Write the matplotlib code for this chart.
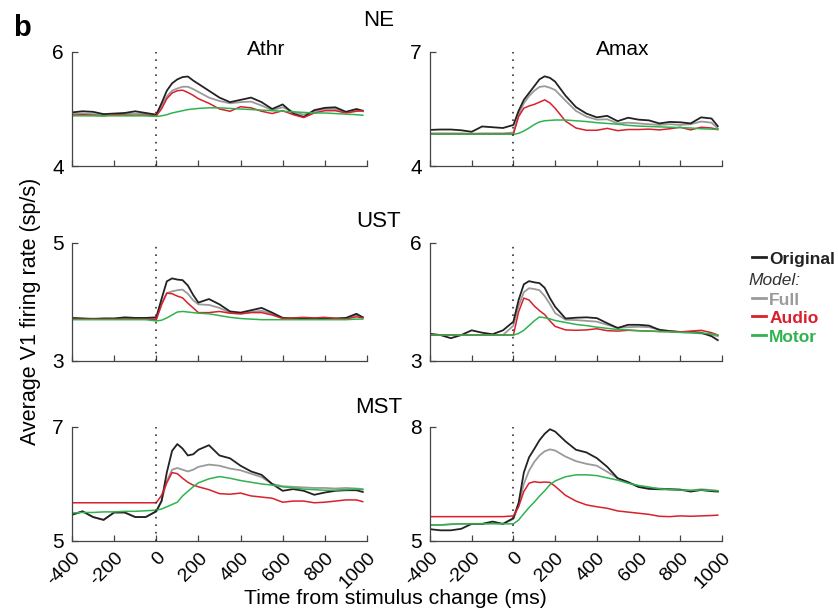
import matplotlib
matplotlib.use('Agg')
import matplotlib.pyplot as plt

plt.rcParams['font.family'] = ['Liberation Sans', 'DejaVu Sans']
plt.rcParams['axes.unicode_minus'] = False

# time axis (ms) shared by all panels
t = [-400, -350, -300, -250, -200, -150, -100, -50, 0, 25, 50, 75, 100, 125, 150, 175, 200,
     250, 300, 350, 400, 450, 500, 550, 600, 650, 700, 750, 800, 850, 900, 950, 980]

# NE / Athr
ne_athr_orig = [4.94, 4.96, 4.95, 4.91, 4.92, 4.93, 4.96, 4.93, 4.90, 5.10, 5.32, 5.45, 5.52, 5.56, 5.57, 5.50, 5.44,
                5.32, 5.20, 5.12, 5.16, 5.20, 5.12, 5.00, 5.08, 4.92, 4.86, 4.98, 5.02, 5.03, 4.95, 5.00, 4.97]
ne_athr_full = [4.91, 4.92, 4.91, 4.90, 4.90, 4.91, 4.92, 4.91, 4.89, 5.05, 5.22, 5.32, 5.36, 5.39, 5.39, 5.35, 5.30,
                5.20, 5.14, 5.10, 5.12, 5.13, 5.06, 4.98, 5.03, 4.95, 4.90, 4.96, 5.00, 5.00, 4.94, 4.98, 4.96]
ne_athr_audio = [4.89, 4.90, 4.89, 4.88, 4.90, 4.89, 4.89, 4.89, 4.88, 5.00, 5.18, 5.28, 5.32, 5.33, 5.29, 5.24, 5.18,
                 5.10, 5.00, 4.96, 5.04, 5.02, 4.96, 4.92, 4.97, 4.90, 4.85, 4.93, 4.97, 4.97, 4.93, 4.96, 4.97]
ne_athr_motor = [4.88, 4.88, 4.88, 4.88, 4.88, 4.88, 4.88, 4.88, 4.87, 4.88, 4.90, 4.93, 4.95, 4.97, 4.99, 5.00, 5.01,
                 5.02, 5.02, 5.01, 5.00, 4.99, 4.98, 4.97, 4.96, 4.95, 4.94, 4.93, 4.93, 4.92, 4.91, 4.90, 4.89]

# NE / Amax
ne_amax_orig = [4.95, 4.96, 4.96, 4.94, 4.90, 5.04, 5.02, 5.00, 5.08, 5.45, 5.74, 5.92, 6.10, 6.28, 6.36, 6.32, 6.22,
                5.85, 5.55, 5.38, 5.28, 5.32, 5.18, 5.27, 5.22, 5.20, 5.12, 5.16, 5.15, 5.12, 5.28, 5.25, 5.05]
ne_amax_full = [4.86, 4.86, 4.86, 4.86, 4.85, 4.86, 4.86, 4.86, 4.88, 5.35, 5.65, 5.84, 5.98, 6.08, 6.10, 6.06, 6.00,
                5.72, 5.45, 5.30, 5.22, 5.23, 5.12, 5.14, 5.12, 5.10, 5.08, 5.10, 5.08, 5.10, 5.17, 5.14, 4.99]
ne_amax_audio = [4.84, 4.84, 4.84, 4.84, 4.84, 4.84, 4.84, 4.84, 4.84, 5.30, 5.52, 5.58, 5.62, 5.68, 5.74, 5.66, 5.52,
                 5.18, 5.00, 4.94, 4.94, 4.99, 4.93, 4.96, 4.96, 4.97, 4.95, 4.98, 5.02, 4.95, 5.02, 5.00, 4.96]
ne_amax_motor = [4.84, 4.84, 4.84, 4.84, 4.84, 4.84, 4.84, 4.84, 4.83, 4.86, 4.92, 5.00, 5.09, 5.16, 5.19, 5.20, 5.21,
                 5.21, 5.19, 5.17, 5.14, 5.12, 5.10, 5.07, 5.05, 5.04, 5.03, 5.02, 5.01, 5.00, 4.98, 4.97, 4.96]

# UST / Athr
ust_athr_orig = [3.73, 3.72, 3.71, 3.72, 3.72, 3.74, 3.73, 3.73, 3.74, 4.05, 4.35, 4.40, 4.38, 4.37, 4.28, 4.12, 3.99,
                 4.05, 3.96, 3.84, 3.82, 3.86, 3.90, 3.82, 3.73, 3.72, 3.73, 3.72, 3.73, 3.72, 3.73, 3.80, 3.74]
ust_athr_full = [3.72, 3.72, 3.72, 3.72, 3.72, 3.72, 3.72, 3.72, 3.72, 3.98, 4.15, 4.18, 4.20, 4.21, 4.14, 4.03, 3.96,
                 3.95, 3.90, 3.82, 3.80, 3.83, 3.85, 3.80, 3.73, 3.72, 3.72, 3.72, 3.72, 3.72, 3.72, 3.78, 3.74]
ust_athr_audio = [3.71, 3.71, 3.71, 3.71, 3.71, 3.71, 3.71, 3.71, 3.70, 3.95, 4.15, 4.14, 4.10, 4.07, 3.98, 3.90, 3.82,
                  3.82, 3.84, 3.81, 3.80, 3.82, 3.82, 3.78, 3.72, 3.73, 3.74, 3.73, 3.74, 3.72, 3.71, 3.75, 3.73]
ust_athr_motor = [3.70, 3.70, 3.70, 3.70, 3.70, 3.70, 3.70, 3.70, 3.68, 3.69, 3.73, 3.78, 3.83, 3.84, 3.83, 3.82, 3.81,
                  3.80, 3.77, 3.74, 3.72, 3.71, 3.70, 3.70, 3.70, 3.70, 3.70, 3.70, 3.70, 3.70, 3.70, 3.71, 3.71]

# UST / Amax
ust_amax_orig = [3.69, 3.66, 3.58, 3.66, 3.78, 3.72, 3.68, 3.78, 4.00, 4.55, 4.95, 5.03, 5.00, 4.98, 4.86, 4.60, 4.38,
                 4.08, 4.10, 4.11, 4.09, 3.96, 3.84, 3.92, 3.92, 3.90, 3.79, 3.76, 3.74, 3.74, 3.72, 3.63, 3.53]
ust_amax_full = [3.66, 3.66, 3.66, 3.66, 3.66, 3.66, 3.66, 3.66, 3.90, 4.40, 4.75, 4.85, 4.83, 4.80, 4.65, 4.45, 4.22,
                 4.05, 4.04, 4.02, 4.00, 3.92, 3.84, 3.86, 3.87, 3.86, 3.80, 3.76, 3.73, 3.72, 3.70, 3.67, 3.63]
ust_amax_audio = [3.66, 3.66, 3.66, 3.66, 3.66, 3.66, 3.66, 3.66, 3.66, 4.25, 4.60, 4.55, 4.40, 4.28, 4.18, 4.02, 3.88,
                  3.79, 3.78, 3.79, 3.82, 3.77, 3.76, 3.78, 3.77, 3.76, 3.75, 3.75, 3.74, 3.76, 3.78, 3.72, 3.66]
ust_amax_motor = [3.66, 3.66, 3.66, 3.66, 3.66, 3.66, 3.66, 3.66, 3.66, 3.70, 3.78, 3.90, 4.02, 4.12, 4.10, 4.07, 4.03,
                  3.98, 3.93, 3.90, 3.86, 3.83, 3.80, 3.79, 3.77, 3.76, 3.75, 3.74, 3.73, 3.72, 3.71, 3.69, 3.66]

# MST / Athr
mst_athr_orig = [5.46, 5.52, 5.42, 5.37, 5.50, 5.50, 5.42, 5.42, 5.52, 5.70, 6.20, 6.58, 6.70, 6.62, 6.50, 6.52, 6.60,
                 6.68, 6.50, 6.45, 6.32, 6.22, 6.16, 6.00, 5.88, 5.91, 5.88, 5.81, 5.85, 5.88, 5.89, 5.89, 5.86]
mst_athr_full = [5.46, 5.52, 5.42, 5.37, 5.50, 5.50, 5.42, 5.42, 5.52, 5.70, 6.05, 6.25, 6.28, 6.25, 6.22, 6.25, 6.30,
                 6.34, 6.32, 6.27, 6.24, 6.18, 6.12, 6.00, 5.96, 5.95, 5.94, 5.93, 5.93, 5.92, 5.93, 5.92, 5.91]
mst_athr_audio = [5.67, 5.67, 5.67, 5.67, 5.67, 5.67, 5.67, 5.67, 5.67, 5.80, 6.02, 6.20, 6.18, 6.10, 6.03, 5.98, 5.95,
                  5.90, 5.83, 5.82, 5.84, 5.79, 5.77, 5.75, 5.68, 5.70, 5.70, 5.67, 5.68, 5.70, 5.72, 5.72, 5.69]
mst_athr_motor = [5.49, 5.50, 5.50, 5.51, 5.51, 5.52, 5.52, 5.53, 5.54, 5.56, 5.60, 5.64, 5.68, 5.79, 5.87, 5.95, 6.02,
                  6.09, 6.13, 6.10, 6.06, 6.03, 6.00, 5.98, 5.95, 5.93, 5.91, 5.90, 5.89, 5.89, 5.90, 5.91, 5.90]

# MST / Amax
mst_amax_orig = [5.31, 5.28, 5.28, 5.32, 5.45, 5.45, 5.51, 5.45, 5.60, 6.00, 6.80, 7.20, 7.42, 7.65, 7.82, 7.94, 7.88,
                 7.62, 7.40, 7.33, 7.18, 6.95, 6.65, 6.55, 6.42, 6.37, 6.36, 6.36, 6.35, 6.30, 6.34, 6.31, 6.30]
mst_amax_full = [5.42, 5.42, 5.44, 5.45, 5.45, 5.45, 5.46, 5.45, 5.58, 5.95, 6.50, 6.85, 7.08, 7.25, 7.36, 7.41, 7.38,
                 7.22, 7.10, 7.03, 6.98, 6.82, 6.65, 6.53, 6.45, 6.40, 6.38, 6.36, 6.35, 6.33, 6.36, 6.34, 6.32]
mst_amax_audio = [5.64, 5.64, 5.64, 5.64, 5.64, 5.64, 5.64, 5.64, 5.66, 5.90, 6.30, 6.52, 6.56, 6.54, 6.55, 6.54, 6.44,
                  6.20, 6.05, 5.95, 5.90, 5.86, 5.79, 5.76, 5.73, 5.70, 5.65, 5.64, 5.66, 5.65, 5.66, 5.67, 5.68]
mst_amax_motor = [5.42, 5.42, 5.44, 5.45, 5.45, 5.45, 5.46, 5.45, 5.45, 5.55, 5.72, 5.88, 6.02, 6.18, 6.32, 6.48, 6.58,
                  6.69, 6.74, 6.74, 6.72, 6.66, 6.60, 6.52, 6.46, 6.42, 6.37, 6.35, 6.34, 6.33, 6.34, 6.33, 6.32]

xticks = [-400, -200, 0, 200, 400, 600, 800, 1000]
xticklabels = ['-400', '-200', '0', '200', '400', '600', '800', '1000']

c_orig = '#222222'
c_full = '#9a9a9a'
c_audio = '#d9202c'
c_motor = '#2fb34f'

panels = [
    # (left, bottom, width, height), ylim, data
    ((0.0859, 0.7292, 0.352, 0.186), (4, 6), (ne_athr_orig, ne_athr_full, ne_athr_audio, ne_athr_motor)),
    ((0.5131, 0.7292, 0.3484, 0.186), (4, 7), (ne_amax_orig, ne_amax_full, ne_amax_audio, ne_amax_motor)),
    ((0.0859, 0.4111, 0.352, 0.1925), (3, 5), (ust_athr_orig, ust_athr_full, ust_athr_audio, ust_athr_motor)),
    ((0.5131, 0.4111, 0.3484, 0.1925), (3, 6), (ust_amax_orig, ust_amax_full, ust_amax_audio, ust_amax_motor)),
    ((0.0859, 0.1175, 0.352, 0.186), (5, 7), (mst_athr_orig, mst_athr_full, mst_athr_audio, mst_athr_motor)),
    ((0.5131, 0.1175, 0.3484, 0.186), (5, 8), (mst_amax_orig, mst_amax_full, mst_amax_audio, mst_amax_motor)),
]

fig = plt.figure(figsize=(8.38, 6.13), dpi=100)

for i, (pos, ylim, (orig, full, audio, motor)) in enumerate(panels):
    ax = fig.add_axes(pos)
    ax.plot(t, full, color=c_full, lw=1.3)
    ax.plot(t, orig, color=c_orig, lw=1.3)
    ax.plot(t, audio, color=c_audio, lw=1.1)
    ax.plot(t, motor, color=c_motor, lw=1.1)
    ax.axvline(0, color='#333333', lw=1.2, linestyle=(0, (1, 3.5)))
    ax.set_xlim(-400, 1000)
    ax.set_ylim(*ylim)
    ax.set_yticks(list(ylim))
    ax.set_xticks(xticks)
    for s in ['top', 'right']:
        ax.spines[s].set_visible(False)
    for s in ['left', 'bottom']:
        ax.spines[s].set_color('#444444')
        ax.spines[s].set_linewidth(0.9)
    ax.tick_params(direction='in', length=4, width=0.9, color='#444444', labelsize=15, pad=6)
    if i >= 4:
        ax.set_xticklabels(xticklabels, rotation=45, ha='right', va='top', rotation_mode='anchor', fontsize=14)
    else:
        ax.set_xticklabels([])

fig.text(0.026, 0.955, 'b', fontsize=21, fontweight='bold', ha='center', va='center')
fig.text(0.452, 0.966, 'NE', fontsize=16, ha='center', va='center')
fig.text(0.317, 0.92, 'Athr', fontsize=15, ha='center', va='center')
fig.text(0.743, 0.92, 'Amax', fontsize=15, ha='center', va='center')
fig.text(0.452, 0.638, 'UST', fontsize=16, ha='center', va='center')
fig.text(0.452, 0.336, 'MST', fontsize=16, ha='center', va='center')
fig.text(0.036, 0.492, 'Average V1 firing rate (sp/s)', fontsize=15.5, rotation=90, ha='center', va='center')
fig.text(0.472, 0.024, 'Time from stimulus change (ms)', fontsize=15.3, ha='center', va='center')

# legend drawn as text entries
leg_x = 0.897
leg_entries = [
    ('Original', c_orig, 0.576, 'bold', 'normal', True),
    ('Model:', '#333333', 0.543, 'normal', 'italic', False),
    ('Full', c_full, 0.510, 'bold', 'normal', True),
    ('Audio', c_audio, 0.480, 'bold', 'normal', True),
    ('Motor', c_motor, 0.449, 'bold', 'normal', True),
]
for label, col, yy, weight, style, has_line in leg_entries:
    if has_line:
        fig.lines.append(plt.Line2D([leg_x, leg_x + 0.017], [yy + 0.004, yy + 0.004], color=col, lw=2.0,
                                    transform=fig.transFigure, figure=fig))
        fig.text(leg_x + 0.021, yy, label, color=col, fontsize=12.5, fontweight=weight, ha='left', va='center')
    else:
        fig.text(leg_x - 0.004, yy, label, color=col, fontsize=12.5, fontstyle=style, ha='left', va='center')

fig.savefig('out.png', dpi=100)
